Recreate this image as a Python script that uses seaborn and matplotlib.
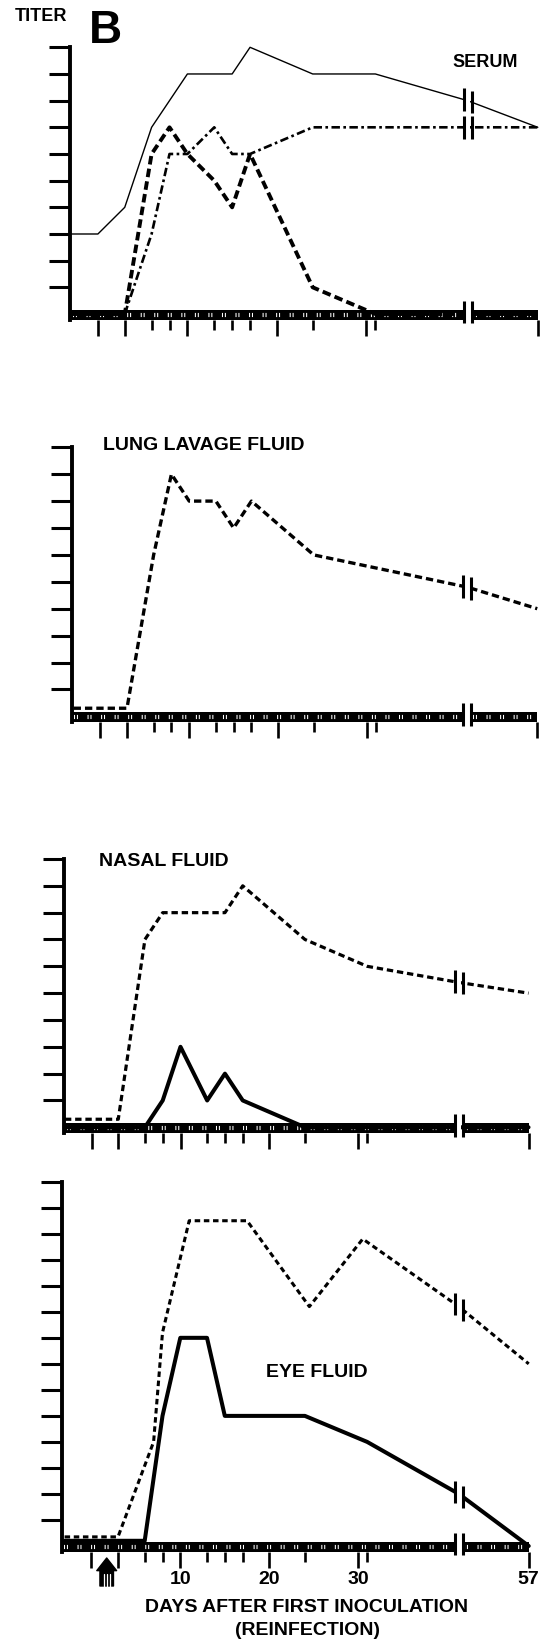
import numpy as np
import matplotlib
matplotlib.use("Agg")
import matplotlib.pyplot as plt
import seaborn as sns
from matplotlib.lines import Line2D

sns.set_style("white")
plt.rcParams["font.family"] = ["Liberation Sans", "DejaVu Sans"]
plt.rcParams["text.color"] = "black"
plt.rcParams["xtick.labelcolor"] = "black"
plt.rcParams["xtick.color"] = "black"
plt.rcParams["ytick.color"] = "black"

# ---------------- data (days after first inoculation, titer level) ----------------
# 41.3 = value where the curve crosses the axis break
serum_solid_days = [-3, 0, 3, 6, 8, 10, 15, 17, 24, 31, 41.3, 57]
serum_solid_titer = [3, 3, 4, 7, 8, 9, 9, 10, 9, 9, 8, 7]
serum_dashed_days = [-3, 3, 6, 8, 10, 13, 15, 17, 24, 31, 41.3, 57]
serum_dashed_titer = [0, 0, 6, 7, 6, 5, 4, 6, 1, 0, 0, 0]
serum_dashdot_days = [-3, 3, 6, 8, 10, 13, 15, 17, 24, 31, 41.3, 57]
serum_dashdot_titer = [0, 0, 3, 6, 6, 7, 6, 6, 7, 7, 7, 7]

lung_dashed_days = [-3, 3, 6, 8, 10, 13, 15, 17, 24, 41.3, 57]
lung_dashed_titer = [0.3, 0.3, 6, 9, 8, 8, 7, 8, 6, 4.8, 4]

nasal_dashed_days = [-3, 3, 6, 8, 15, 17, 24, 31, 41.3, 57]
nasal_dashed_titer = [0.3, 0.3, 7, 8, 8, 9, 7, 6, 5.4, 5]
nasal_solid_days = [-3, 6, 8, 10, 13, 15, 17, 24, 31, 41.3, 57]
nasal_solid_titer = [0, 0, 1, 3, 1, 2, 1, 0, 0, 0, 0]

eye_dashed_days = [-3, 3, 7, 8, 11, 17.5, 24.5, 30.5, 41.3, 57]
eye_dashed_titer = [0.35, 0.35, 4, 8.2, 12.5, 12.5, 9.2, 11.8, 9.2, 7]
eye_solid_days = [-3, 6, 8, 10, 13, 15, 24, 31, 41.3, 57]
eye_solid_titer = [0.2, 0.2, 5, 8, 8, 5, 5, 4, 2, 0]

major_days = [0, 3, 10, 20, 30, 57]
minor_days = [6, 8, 13, 15, 17, 24, 31]
major_labels = ["", "", "10", "20", "30", "57"]

panel_titles = ["SERUM", "LUNG LAVAGE FLUID", "NASAL FLUID", "EYE FLUID"]
x_title = "DAYS AFTER FIRST INOCULATION"
x_subtitle = "(REINFECTION)"

# ---------------- layout ----------------
W, H = 548, 1640
fig = plt.figure(figsize=(W / 100, H / 100), dpi=100)
fig.patch.set_facecolor("white")

BRK = 41.3   # break position on the day axis
CMP = 0.5    # compression after the break


def fwd(d):
    d = np.asarray(d, dtype=float)
    return np.where(d <= BRK, d, BRK + CMP * (d - BRK))


def inv(t):
    t = np.asarray(t, dtype=float)
    return np.where(t <= BRK, t, BRK + (t - BRK) / CMP)


YLO = -0.22
BAND_TOP = 0.15


def make_ax(left, day0, ppd, top, level0, ppl, ntop, bottom_labels=False):
    lo = -(day0 - left) / ppd
    right = day0 + float(fwd(57)) * ppd
    bottom = level0 - YLO * ppl
    ax = fig.add_axes([left / W, 1 - bottom / H, (right - left) / W, (bottom - top) / H])
    ax.set_facecolor("none")
    ax.set_xscale("function", functions=(fwd, inv))
    ax.set_xlim(lo, 57)
    ax.set_ylim(YLO, ntop)
    for s in ["top", "right", "bottom"]:
        ax.spines[s].set_visible(False)
    ax.spines["left"].set_linewidth(2.8)
    ax.spines["left"].set_color("black")
    ax.set_yticks(range(1, ntop + 1))
    ax.set_yticklabels([])
    ax.tick_params(axis="y", direction="out", length=15, width=2.2, left=True, color="black")
    ax.set_xticks(major_days)
    ax.set_xticks(minor_days, minor=True)
    ax.tick_params(axis="x", which="major", direction="out", length=11.5, width=1.9,
                   bottom=True, color="black", labelbottom=bottom_labels)
    ax.tick_params(axis="x", which="minor", direction="out", length=7, width=1.9,
                   bottom=True, color="black", labelbottom=False)
    if bottom_labels:
        ax.set_xticklabels(major_labels, fontsize=14, fontweight="bold", color="black")
        ax.tick_params(axis="x", which="major", pad=1.5)
    else:
        ax.set_xticklabels([])
    ax.set_xlabel("")
    ax.set_ylabel("")
    # baseline band (below detection) split by the break
    xl, xr = float(inv(BRK - 0.45)), float(inv(BRK + 0.45))
    for a, b in [(lo, xl), (xr, 57)]:
        ax.fill_between([a, b], YLO, BAND_TOP, color="black", lw=0, zorder=2)
        ax.plot([a + 0.3, b], [-0.03, -0.03], color="white", lw=3.0,
                ls=(0, (0.25, 0.45, 0.25, 2.3)), zorder=2.5, solid_capstyle="butt")
    return ax


def draw(ax, days, vals, lw, ls):
    sns.lineplot(x=days, y=vals, ax=ax, color="black", lw=lw, linestyle=ls,
                 estimator=None, sort=False, clip_on=False, zorder=3)


def add_break(ax, series):
    xl, xr = float(inv(BRK - 0.45)), float(inv(BRK + 0.45))
    ax.axvspan(float(inv(BRK - 0.3)), float(inv(BRK + 0.3)), color="white", lw=0, zorder=4)
    for x in (xl, xr):
        ax.plot([x, x], [-0.35, 0.5], color="black", lw=2.2, zorder=5, clip_on=False,
                solid_capstyle="butt")
        for days, vals in series:
            v = np.interp(x, days, vals)
            if v > 0.6:
                ax.plot([x, x], [v - 0.42, v + 0.42], color="black", lw=2.2, zorder=5,
                        clip_on=False, solid_capstyle="butt")


# Serum
ax1 = make_ax(70, 97.9, 8.95, 48.3, 315, 26.7, 10)
draw(ax1, serum_solid_days, serum_solid_titer, 1.0, "-")
draw(ax1, serum_dashed_days, serum_dashed_titer, 2.8, (0, (2.2, 1.1)))
draw(ax1, serum_dashdot_days, serum_dashdot_titer, 1.9, (0, (3.2, 1.3, 1.0, 1.3)))
add_break(ax1, [(serum_solid_days, serum_solid_titer),
                (serum_dashdot_days, serum_dashdot_titer)])

# Lung lavage
ax2 = make_ax(71.7, 100.3, 8.89, 448.3, 717.3, 26.9, 10)
draw(ax2, lung_dashed_days, lung_dashed_titer, 2.4, (0, (2.2, 1.2)))
add_break(ax2, [(lung_dashed_days, lung_dashed_titer)])

# Nasal
ax3 = make_ax(64, 91.6, 8.89, 860, 1128.3, 26.8, 10)
draw(ax3, nasal_dashed_days, nasal_dashed_titer, 2.3, (0, (2.0, 1.2)))
draw(ax3, nasal_solid_days, nasal_solid_titer, 2.9, "-")
add_break(ax3, [(nasal_dashed_days, nasal_dashed_titer)])

# Eye
ax4 = make_ax(61.7, 91.3, 8.9, 1182.7, 1547, 26.02, 14, bottom_labels=True)
draw(ax4, eye_dashed_days, eye_dashed_titer, 2.2, (0, (1.8, 1.2)))
draw(ax4, eye_solid_days, eye_solid_titer, 2.9, "-")
add_break(ax4, [(eye_dashed_days, eye_dashed_titer), (eye_solid_days, eye_solid_titer)])


# ---------------- texts ----------------
def ftext(x, y, s, size, ha="left"):
    fig.text(x / W, 1 - y / H, s, fontsize=size, fontweight="bold", ha=ha,
             va="baseline", color="black")


ftext(15, 21, "TITER", 13)
ftext(89, 43, "B", 33)
ftext(452.5, 66.7, panel_titles[0], 13)
ftext(103, 450, panel_titles[1], 14)
ftext(99, 866, panel_titles[2], 14)
ftext(266, 1377, panel_titles[3], 14)
ftext(306.5, 1612, x_title, 14, ha="center")
ftext(307.5, 1635, x_subtitle, 14, ha="center")

# reinfection arrow
ax4.annotate("", xy=(106.7, H - 1559), xycoords="figure pixels",
             xytext=(106.7, H - 1587), textcoords="figure pixels",
             arrowprops=dict(arrowstyle="simple,head_length=0.7,head_width=1.1,tail_width=0.75",
                             color="black", mutation_scale=13, shrinkA=0, shrinkB=0))
for dx in (-3.2, 0, 3.2):
    fig.add_artist(Line2D([(106.7 + dx) / W] * 2, [1 - 1575 / H, 1 - 1588 / H],
                          transform=fig.transFigure, color="white", lw=0.9))

fig.savefig("out.png", dpi=100, facecolor="white")
